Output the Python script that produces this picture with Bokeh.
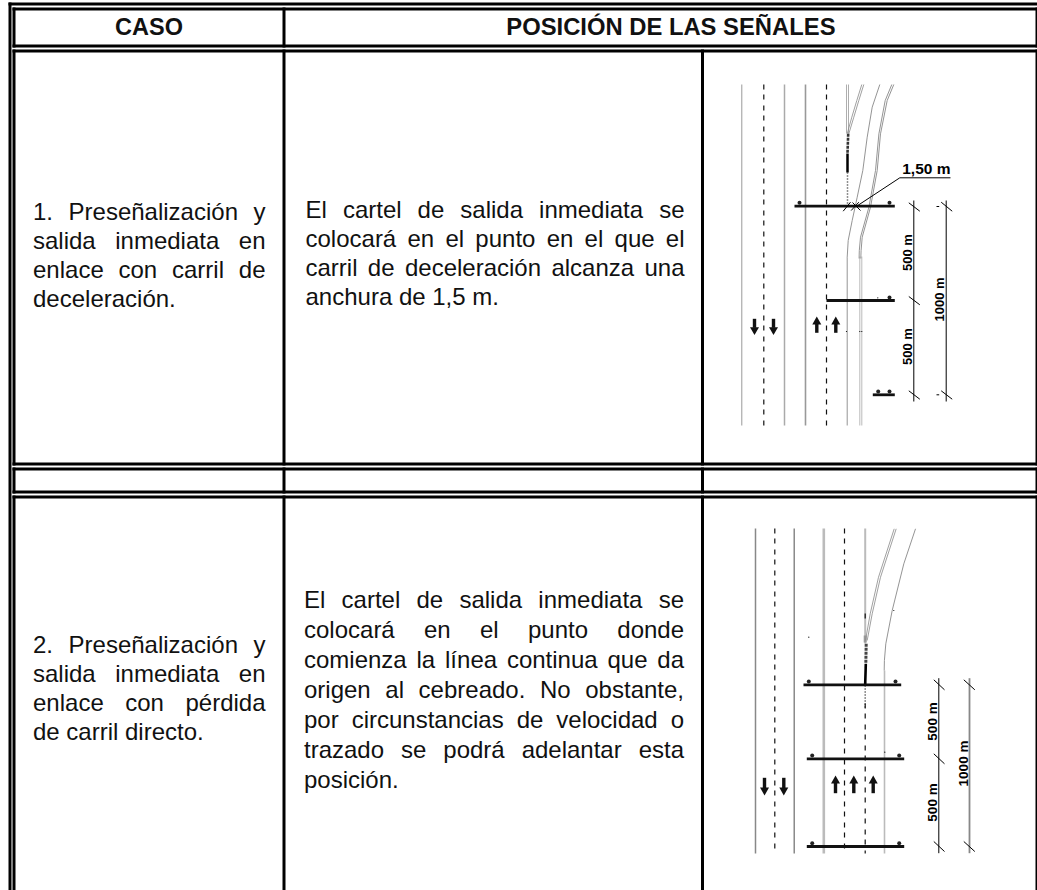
from bokeh.plotting import figure
from bokeh.models import Range1d
from bokeh.core.properties import value
from bokeh.embed import file_html
from bokeh.resources import INLINE
from math import pi

# ---- table content ----
header_labels = ["CASO", "POSICIÓN DE LAS SEÑALES"]
case1_lines = ["1. Preseñalización y", "salida inmediata en", "enlace con carril de", "deceleración."]
case2_lines = ["2. Preseñalización y", "salida inmediata en", "enlace con pérdida", "de carril directo."]
pos1_lines = ["El cartel de salida inmediata se", "colocará en el punto en el que el",
              "carril de deceleración alcanza una", "anchura de 1,5 m."]
pos2_lines = ["El cartel de salida inmediata se", "colocará en el punto donde",
              "comienza la línea continua que da", "origen al cebreado. No obstante,",
              "por circunstancias de velocidad o", "trazado se podrá adelantar esta", "posición."]

# ---- table rules (page scale) ----
h_rules = [(3.5, 8, 1037), (8.5, 12, 1037), (45.5, 12, 1037), (50.5, 12, 1037),
           (463.5, 12, 1037), (468.5, 12, 1037), (491.5, 12, 1037), (496.5, 12, 1037)]
v_rules = [(9.5, 2, 890), (13.5, 7, 47), (13.5, 49, 465), (13.5, 467, 493), (13.5, 495, 890),
           (1036.5, 7, 47), (1036.5, 49, 465), (1036.5, 467, 493), (1036.5, 495, 890),
           (283.5, 7, 47), (283.5, 49, 465), (283.5, 467, 493), (283.5, 495, 890),
           (702, 49, 465), (702, 467, 493), (702, 495, 890)]

# ---- road sketches: (x, y0, y1, colour, width) ----
solid1 = [(741.3, 84, 425, "#999999", 1), (784, 84, 425, "#aaaaaa", 1.5), (805, 84, 425, "#999999", 1.6),
          (846, 84, 133, "#999999", 0.8), (848, 84, 133, "#999999", 0.8), (859.3, 256, 425, "#aaaaaa", 0.8),
          (861.3, 256, 425, "#aaaaaa", 0.8)]
solid2 = [(755, 528, 853, "#888888", 1.5), (793.7, 528, 853, "#777777", 1.3), (823.3, 528, 853, "#bbbbbb", 2.6),
          (864.7, 528, 643, "#bbbbbb", 2), (864.7, 635, 642, "#999999", 3), (884, 670, 853, "#bbbbbb", 1.6)]
dashed = [(763.3, 84, 425), (826, 84, 425), (774.3, 528, 853), (844, 528, 853), (864.7, 703, 853), (864.7, 613, 618)]
curves = [
    ([863.3, 858.3, 853.3, 848.3], [84, 100, 116.7, 133.3], 0.8),
    ([861.3, 856.3, 851.3, 846.7], [84, 100, 116.7, 133.3], 0.8),
    ([879.3, 871.7, 866.7, 862.3, 856.7, 851.7, 847.7, 846.7, 846.7], [84, 106.7, 136.7, 170, 196.7, 220, 240, 256.7, 425], 0.9),
    ([893.3, 886.7, 880, 876.7, 870, 861.7, 860.6, 860.3], [84, 100, 133.3, 170, 206.7, 236.7, 250, 258], 0.9),
    ([891.3, 884.7, 878.4, 875, 868.4, 860, 858.8, 858.6], [84, 100, 133.3, 170, 206.7, 236.7, 250, 258], 0.9),
    ([915, 903.3, 891.7, 885.3, 883.9, 883.7], [528.3, 563.3, 610, 643.3, 660, 670], 0.9),
    ([895.7, 880, 871.7, 866.7], [528.3, 576.7, 613.3, 640], 0.8),
    ([893.7, 878, 869.7, 865], [528.3, 576.7, 613.3, 640], 0.8),
]
gore_thick = [(847.7, 133.3, 847, 153, "3 1", "#333333", 2.6), (865.7, 643.3, 865.3, 663.3, "3 1", "#444444", 3)]
gore_solid = [(847, 153, 847, 172, 2.5), (865.3, 663.3, 864.7, 684, 2.6)]
gore_dots = [(847, 172, 847, 204), (864.7, 685, 864.7, 708)]

sign_bars = [(794, 894.3, 205.7), (826, 894.3, 300), (872.3, 894.3, 394.3),
             (803, 900.7, 684.3), (806.3, 903.7, 758.3), (806.3, 903.7, 846)]
sign_dots = [(799, 202.3), (889, 202.3), (889, 297), (877.7, 391), (889, 391),
             (808.3, 681), (895, 681), (811.7, 755), (898.7, 755), (811.7, 842.7), (898.7, 842.7)]
specks = [(877.3, 297.3), (846, 331), (859.3, 331), (861.3, 331), (808.3, 636.7), (893.3, 610), (884.3, 751.7)]

dim_lines = [(913.3, 200, 401, "#000000", 1), (945.7, 200, 401, "#000000", 1),
             (938.3, 677.7, 852.7, "#000000", 1), (969, 677.7, 852.7, "#888888", 1.8)]
ticks = [(842.7, 210.7, 850, 201.7), (850.7, 210, 858.3, 201.7), (852, 202, 860, 210),
         (908.3, 202.3, 919.3, 210.7), (908.3, 296, 919.3, 304.3), (908.3, 390.3, 919.3, 398.7),
         (940.7, 201.7, 951.7, 210.7), (940.7, 390.3, 951.7, 398.7), (936, 206, 938.7, 206), (936, 394.3, 938.7, 394.3),
         (933.3, 679.3, 944, 689.3), (933.3, 753.3, 944, 763.3), (933.3, 841, 944, 851),
         (963.3, 679.3, 974.3, 689.3), (963.3, 841, 974.3, 851)]
leader_x = [855.7, 899.3, 950]
leader_y = [206, 177.3, 177.3]
dim_labels = [("500 m", 911.7, 252, 13), ("500 m", 911.7, 346, 13), ("1000 m", 944.3, 299, 13),
              ("500 m", 937.3, 721, 13.5), ("500 m", 937.3, 802, 13.5), ("1000 m", 967.7, 763, 13.5)]
arrows_down = [(754, 318.3, 332.3), (773, 318.3, 332.3), (764, 777.3, 792.7), (783.3, 777.3, 792.7)]
arrows_up = [(816.3, 318.3, 332.3), (835.3, 318.3, 332.3), (835, 777.3, 792.7), (853.3, 777.3, 792.7), (872.7, 777.3, 792.7)]

# Arial / Liberation Sans advance widths, 1/1000 em, for justifying lines
ARIAL = dict(zip("abcdefghijklmnopqrstuvwxyz", [556, 556, 500, 556, 556, 278, 556, 556, 222, 222, 500, 222, 833,
                                                 556, 556, 556, 556, 333, 500, 278, 556, 500, 722, 500, 500, 500]))
ARIAL.update({"á": 556, "é": 556, "í": 278, "ó": 556, "ñ": 556, "P": 667, "E": 667, "N": 722,
              ".": 278, ",": 278, "1": 556, "2": 556, "5": 556})

BASE_K = 0.37  # distance the SVG backend pushes "alphabetic" text below its anchor, in em


def word_w(word, size):
    return sum(ARIAL[c] for c in word) * size / 1000


def place(lines, x0, x1, baselines, size):
    xs, ys, words = [], [], []
    for i, (line, y) in enumerate(zip(lines, baselines)):
        parts = line.split(" ")
        justified = i < len(lines) - 1
        total = sum(word_w(w, size) for w in parts)
        gap = (x1 - x0 - total) / (len(parts) - 1) if justified and len(parts) > 1 else 0.278 * size
        x = x0
        for w in parts:
            xs.append(x); ys.append(y - BASE_K * size); words.append(w)
            x += word_w(w, size) + gap
    return xs, ys, words


W, H = 1037, 890
p = figure(width=W, height=H, x_range=Range1d(0, W), y_range=Range1d(H, 0), x_axis_type=None, y_axis_type=None,
           toolbar_location=None, output_backend="svg", min_border=0, outline_line_color=None,
           background_fill_color="white", border_fill_color="white", margin=(0, 0, 0, 0))
p.grid.visible = False

# table
p.segment([r[1] for r in h_rules], [r[0] for r in h_rules], [r[2] for r in h_rules], [r[0] for r in h_rules],
          line_color="black", line_width=3)
p.segment([r[0] for r in v_rules], [r[1] for r in v_rules], [r[0] for r in v_rules], [r[2] for r in v_rules],
          line_color="black", line_width=3)

# roads
for s in solid1 + solid2:
    p.line([s[0], s[0]], [s[1], s[2]], line_color=s[3], line_width=s[4])
for d in dashed:
    p.line([d[0], d[0]], [d[1], d[2]], line_color="#111111", line_width=1.2, line_dash="5 5 5 6")
for xs, ys, lw in curves:
    p.line(xs, ys, line_color="#888888", line_width=lw)
for g in gore_thick:
    p.line([g[0], g[2]], [g[1], g[3]], line_color=g[5], line_width=g[6], line_dash=g[4])
for g in gore_solid:
    p.line([g[0], g[2]], [g[1], g[3]], line_color="black", line_width=g[4])
for g in gore_dots:
    p.line([g[0], g[2]], [g[1], g[3]], line_color="#222222", line_width=1.5, line_dash="1 2")

# signs
p.segment([b[0] for b in sign_bars], [b[2] for b in sign_bars], [b[1] for b in sign_bars], [b[2] for b in sign_bars],
          line_color="#111111", line_width=2.8)
p.scatter([d[0] for d in sign_dots], [d[1] for d in sign_dots], size=4, color="#222222", line_width=0)
p.scatter([d[0] for d in specks], [d[1] for d in specks], size=1.2, color="black", line_width=0)

# dimension lines
for d in dim_lines:
    p.line([d[0], d[0]], [d[1], d[2]], line_color=d[3], line_width=d[4])
p.segment([t[0] for t in ticks], [t[1] for t in ticks], [t[2] for t in ticks], [t[3] for t in ticks],
          line_color="black", line_width=1)
p.line(leader_x, leader_y, line_color="black", line_width=1)

# arrows
for a in arrows_down:
    p.line([a[0], a[0]], [a[1], a[2] - 5], line_color="#111111", line_width=3.4)
    p.scatter([a[0]], [a[2] - 3], marker="inverted_triangle", size=9, color="#111111", line_width=0)
for a in arrows_up:
    p.line([a[0], a[0]], [a[1] + 5, a[2]], line_color="#111111", line_width=3.4)
    p.scatter([a[0]], [a[1] + 3], marker="triangle", size=9, color="#111111", line_width=0)

FONT = value("Liberation Sans")
# header
p.text([148.5], [35.5 - BASE_K * 23.5], text=[header_labels[0]], text_font=FONT, text_font_size="23.5px", text_font_style="bold",
       text_align="center", text_baseline="alphabetic", text_color="#111111")
p.text([835], [34.5 - BASE_K * 23.8], text=[header_labels[1]], text_font=FONT, text_font_size="23.8px", text_font_style="bold",
       text_align="right", text_baseline="alphabetic", text_color="#111111")

# body text, justified word by word
for lines, x0, x1, bases in [
    (case1_lines, 32.5, 265, [220, 249, 278, 307]),
    (pos1_lines, 305, 684, [218, 247, 276, 305]),
    (case2_lines, 32.5, 265, [653, 682, 711, 740]),
    (pos2_lines, 303.5, 683.5, [608, 638, 668, 698, 728, 758, 788]),
]:
    xs, ys, words = place(lines, x0, x1, bases, 24)
    p.text(xs, ys, text=words, text_font=FONT, text_font_size="24px", text_align="left",
           text_baseline="alphabetic", text_color="#111111")

# sketch labels
p.text([901.7], [174 - BASE_K * 15.5], text=["1,50 m"], text_font=FONT, text_font_size="15.5px", text_font_style="bold",
       text_align="left", text_baseline="alphabetic", text_color="black")
for t, x, y, s in dim_labels:
    p.text([x - BASE_K * s], [y], text=[t], angle=pi / 2, text_font=FONT, text_font_size=f"{s}px", text_font_style="bold",
           text_align="center", text_baseline="alphabetic", text_color="black")

open("out.html", "w").write(file_html(p, INLINE))
